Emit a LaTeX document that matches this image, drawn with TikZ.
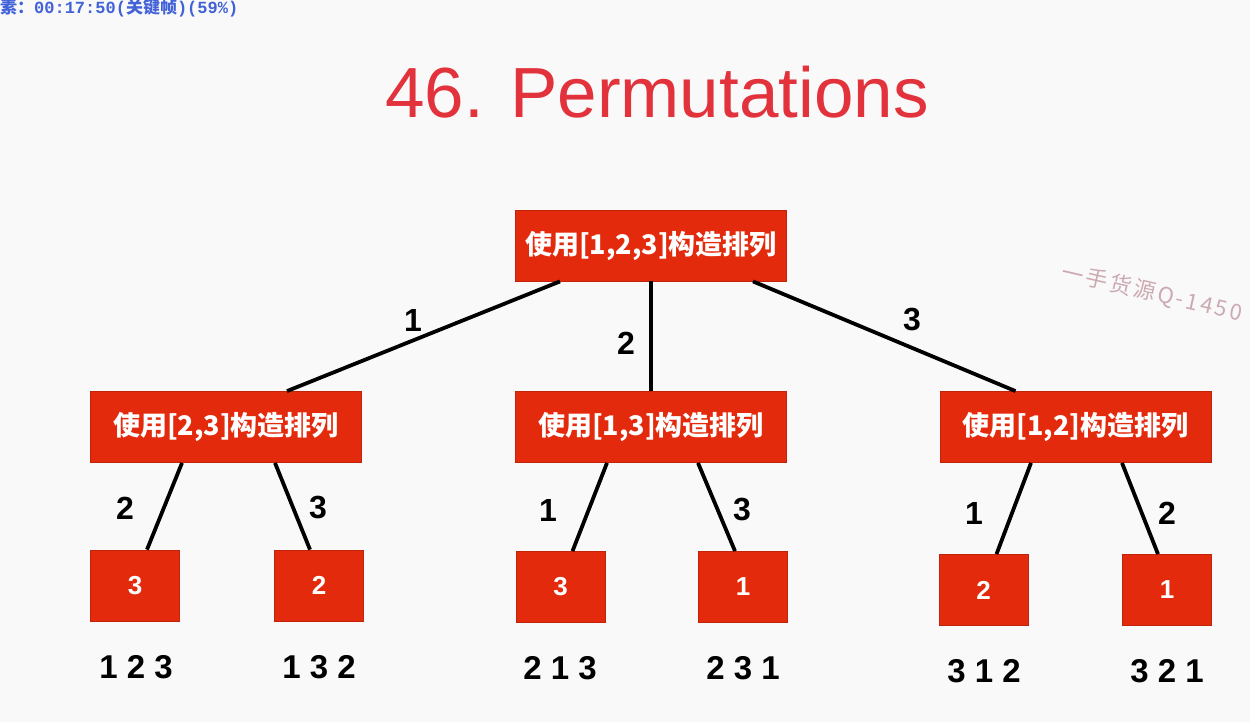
\documentclass[tikz,border=0pt]{standalone}
\usepackage{fontspec}
\setmainfont{Liberation Sans}
\newfontfamily\cjk{Noto Sans CJK SC}
\newfontfamily\wmfont{Noto Sans CJK SC}[LetterSpace=12]
\newfontfamily\osdmono{Liberation Mono}
\definecolor{bg}{HTML}{F9F9F9}
\definecolor{boxred}{HTML}{E42A0C}
\definecolor{titlered}{HTML}{E2323C}
\definecolor{wmcol}{HTML}{CCAAB2}
\definecolor{osd}{HTML}{4262D8}
\begin{document}
\begin{tikzpicture}[x=1pt,y=-1pt,
  bigbox/.style={fill=boxred, draw=boxred!85!black, line width=0.8pt,
    minimum width=271pt, minimum height=71pt, inner sep=0pt, text=white,
    font=\cjk\bfseries\fontsize{27}{27}\selectfont},
  leafbox/.style={fill=boxred, draw=boxred!85!black, line width=0.8pt,
    minimum width=89pt, minimum height=71pt, inner sep=0pt, text=white,
    font=\bfseries\fontsize{26}{26}\selectfont},
  conn/.style={line width=3.8pt, black},
  elabel/.style={font=\bfseries\fontsize{32}{32}\selectfont, text=black},
  result/.style={font=\bfseries\fontsize{33}{33}\selectfont, text=black}]
\useasboundingbox[fill=bg] (0,0) rectangle (1250,722);

% overlay texts
\node[anchor=west, inner sep=0pt, text=osd, font=\bfseries\fontsize{17}{17}\selectfont] (osd) at (0,8) {\cjk 素：\osdmono 00:17:50(\cjk 关键帧\osdmono)(59\%)};
\node[rotate=-13, inner sep=0pt, text=wmcol, font=\wmfont\fontsize{22}{22}\selectfont] (wm) at (1152,293) {一手货源Q-1450};

% title
\node[text=titlered, font=\fontsize{71}{71}\selectfont, inner sep=0pt] (title) at (657,92) {46. Permutations};

% nodes
\node[bigbox] (root) at (651,245.5) {使用[1,2,3]构造排列};
\node[bigbox] (a) at (226,427) {使用[2,3]构造排列};
\node[bigbox] (b) at (651,427) {使用[1,3]构造排列};
\node[bigbox] (c) at (1075.5,427) {使用[1,2]构造排列};

\node[leafbox] (a1) at (135,585.5) {3};
\node[leafbox] (a2) at (319,585.5) {2};
\node[leafbox] (b1) at (560.5,587) {3};
\node[leafbox] (b2) at (743,587) {1};
\node[leafbox] (c1) at (983.5,590) {2};
\node[leafbox] (c2) at (1167,590) {1};

% connectors
\draw[conn] ([xshift=-91pt]root.south) -- ([xshift=61pt]a.north);
\draw[conn] (root.south) -- (b.north);
\draw[conn] ([xshift=102pt]root.south) -- ([xshift=-60pt]c.north);

\draw[conn] ([xshift=-44pt]a.south) -- ([xshift=12pt]a1.north);
\draw[conn] ([xshift=49pt]a.south) -- ([xshift=-9pt]a2.north);
\draw[conn] ([xshift=-44pt]b.south) -- ([xshift=12pt]b1.north);
\draw[conn] ([xshift=47pt]b.south) -- ([xshift=-8pt]b2.north);
\draw[conn] ([xshift=-44.5pt]c.south) -- ([xshift=13pt]c1.north);
\draw[conn] ([xshift=46.5pt]c.south) -- ([xshift=-9pt]c2.north);

% edge labels
\node[elabel] (l1) at (413,320) {1};
\node[elabel] (l2) at (626,343) {2};
\node[elabel] (l3) at (912,320) {3};
\node[elabel] (la1) at (125,508) {2};
\node[elabel] (la2) at (318,508) {3};
\node[elabel] (lb1) at (548,510) {1};
\node[elabel] (lb2) at (742,510) {3};
\node[elabel] (lc1) at (974,513) {1};
\node[elabel] (lc2) at (1167,513) {2};

% results
\node[result] (r1) at (136,667) {1 2 3};
\node[result] (r2) at (319,667) {1 3 2};
\node[result] (r3) at (560,668) {2 1 3};
\node[result] (r4) at (743,668) {2 3 1};
\node[result] (r5) at (984,671) {3 1 2};
\node[result] (r6) at (1167,671) {3 2 1};
\end{tikzpicture}
\end{document}
